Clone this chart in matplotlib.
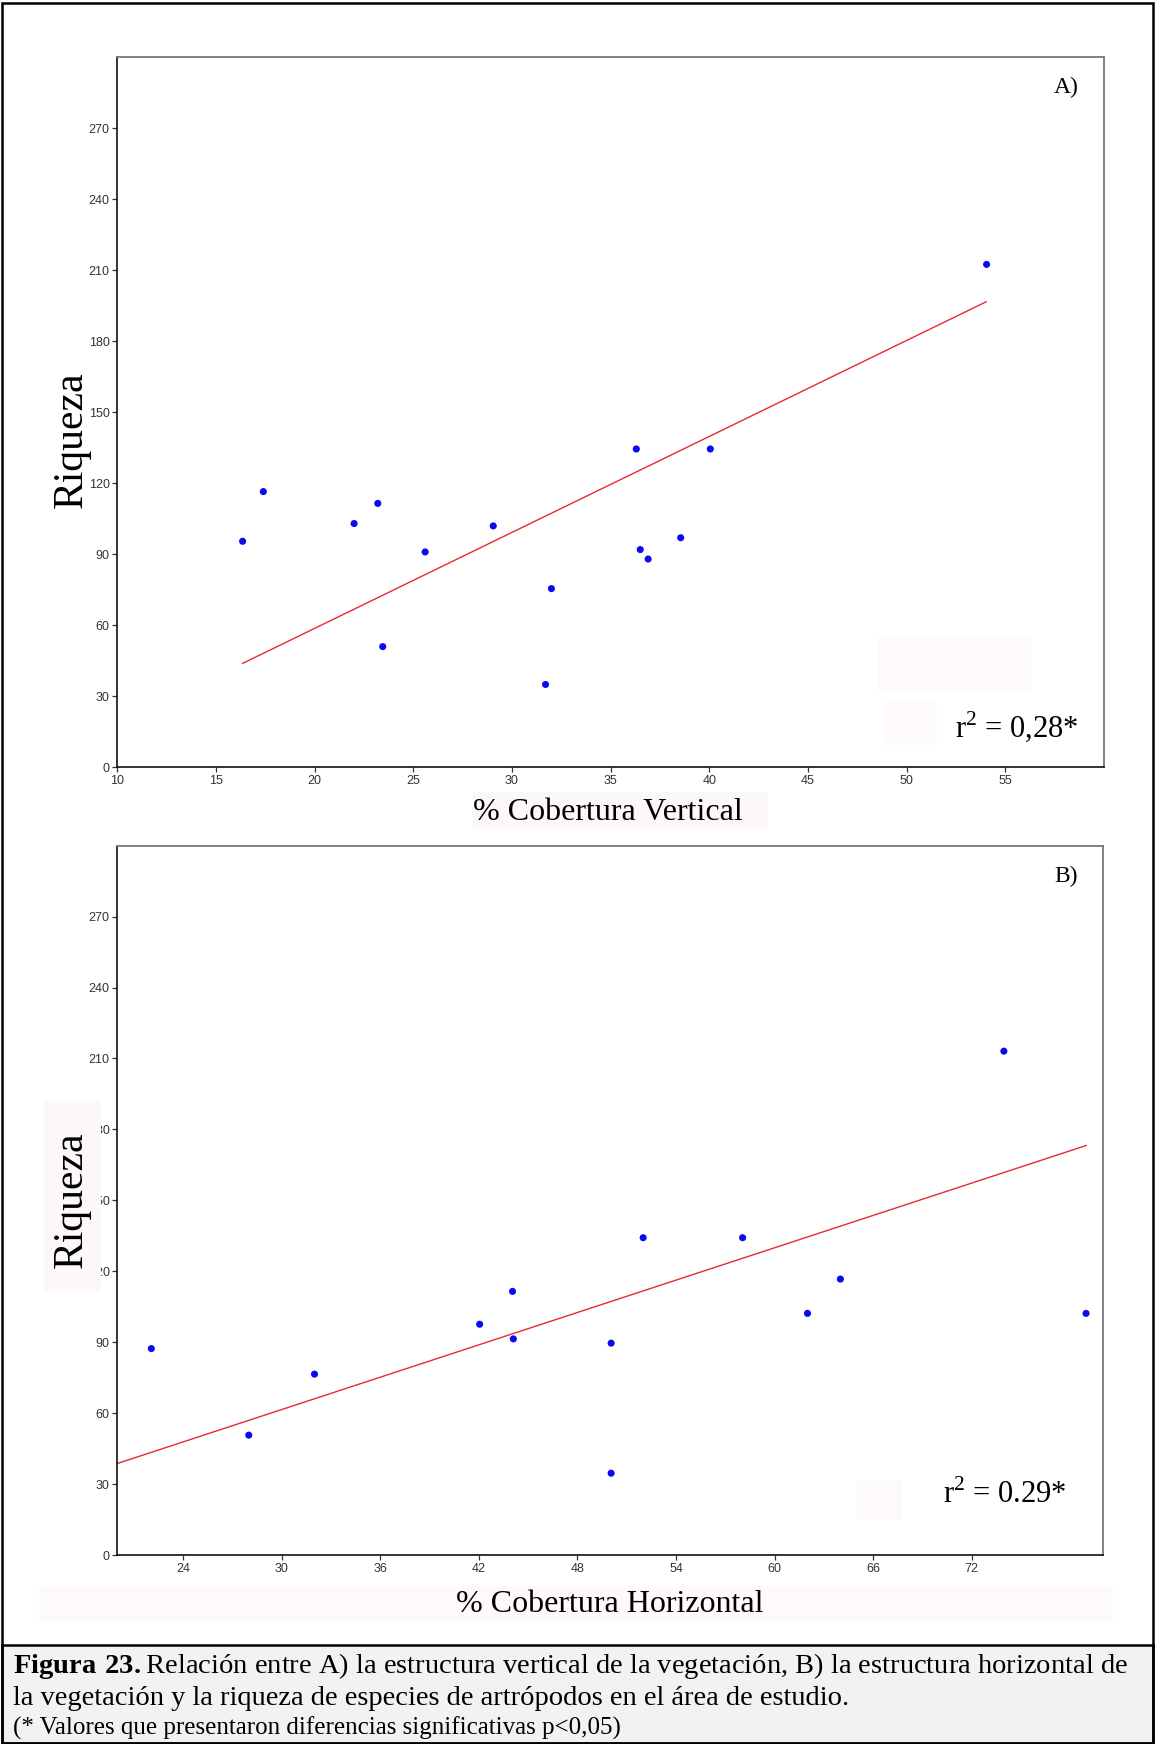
import matplotlib.pyplot as plt
from matplotlib.patches import Rectangle

# A) cobertura vertical vs riqueza
cob_vertical = [16.35, 17.4, 22.0, 23.2, 23.45, 25.6, 29.05, 32.0, 31.7,
                36.3, 40.05, 38.55, 36.5, 36.9, 54.05]
riqueza_a = [95.5, 116.5, 103, 111.5, 51, 91, 102, 75.5, 35,
             134.5, 134.5, 97, 92, 88, 212.5]
fit_a_x = [16.35, 54.03]
fit_a_y = [43.9, 196.7]
xticks_a = [10, 15, 20, 25, 30, 35, 40, 45, 50, 55]

# B) cobertura horizontal vs riqueza
cob_horizontal = [22.07, 28.0, 32.0, 42.05, 44.05, 44.1, 50.05, 50.05,
                  52.0, 58.05, 64.0, 62.0, 78.95, 73.95]
riqueza_b = [87.3, 50.7, 76.5, 97.6, 111.5, 91.4, 89.6, 34.6,
             134.2, 134.2, 116.7, 102.2, 102.2, 213.1]
fit_b_x = [20, 78.96]
fit_b_y = [38.7, 173.2]
xticks_b = [24, 30, 36, 42, 48, 54, 60, 66, 72]

yticks = [0, 30, 60, 90, 120, 150, 180, 210, 240, 270]

W, H = 1155, 1744
plt.rcParams['mathtext.fontset'] = 'custom'
plt.rcParams['mathtext.rm'] = 'Liberation Serif'
plt.rcParams['mathtext.bf'] = 'Liberation Serif:bold'
SERIF = 'Liberation Serif'

fig = plt.figure(figsize=(W / 100, H / 100), dpi=100)


def box(x0, y0, x1, y1):
    # pixel box (top-left origin) -> figure fraction rect
    return [x0 / W, 1 - y1 / H, (x1 - x0) / W, (y1 - y0) / H]


def pt(x, y):
    return x / W, 1 - y / H


def pink(x0, y0, x1, y1, color='#fefafa', z=1):
    r = box(x0, y0, x1, y1)
    fig.patches.append(Rectangle((r[0], r[1]), r[2], r[3], transform=fig.transFigure,
                                 fc=color, ec='none', zorder=z))


def panel(rect, xs, ys, fx, fy, xlim, xticks):
    ax = fig.add_axes(rect)
    ax.scatter(xs, ys, s=26, color='#0a0aee', edgecolors='none', zorder=3)
    ax.plot(fx, fy, color='#e62a30', lw=1.0, zorder=2)
    ax.set_xlim(*xlim)
    ax.set_ylim(0, 300)
    ax.set_xticks(xticks)
    ax.set_yticks(yticks)
    for s in ['left', 'bottom']:
        ax.spines[s].set_color('#111111')
        ax.spines[s].set_linewidth(1.2)
    for s in ['top', 'right']:
        ax.spines[s].set_color('#777777')
        ax.spines[s].set_linewidth(1.3)
    ax.tick_params(direction='out', length=3.5, width=0.9, color='#333333',
                   labelsize=9, labelcolor='#333333', pad=2)
    for lab in ax.get_xticklabels() + ax.get_yticklabels():
        lab.set_fontfamily('Liberation Sans')
    return ax


axA = panel(box(117.3, 57.3, 1104, 767.3), cob_vertical, riqueza_a,
            fit_a_x, fit_a_y, (10, 60), xticks_a)
axB = panel(box(117.3, 845.7, 1103.3, 1555), cob_horizontal, riqueza_b,
            fit_b_x, fit_b_y, (20, 80), xticks_b)

# outer frame and caption area
r = box(2, 1645, 1153, 1743)
fig.patches.append(Rectangle((r[0], r[1]), r[2], r[3], transform=fig.transFigure,
                             fc='#f2f2f2', ec='black', lw=1.8, zorder=0))
r = box(2, 3, 1153, 1743)
fig.patches.append(Rectangle((r[0], r[1]), r[2], r[3], transform=fig.transFigure,
                             fc='none', ec='black', lw=1.8, zorder=5))

# faint patches left over in the original
pink(878, 637, 1031, 693)
pink(883, 702, 937, 745)
pink(473, 792, 768, 829, color='#fdf8f8')
pink(39, 1586, 1113, 1622)
pink(857, 1480, 902, 1520)
pink(44, 1101, 101, 1291, color='#fdf8f8', z=2)

# panel texts
fig.text(*pt(1066, 87), 'A)', family=SERIF, fontsize=17, ha='center', va='center')
fig.text(*pt(1066, 876), 'B)', family=SERIF, fontsize=17, ha='center', va='center')
fig.text(*pt(1017, 727), 'r$^{2}$ = 0,28*', family=SERIF, fontsize=22, ha='center', va='center')
fig.text(*pt(1005, 1495), 'r$^{2}$ = 0.29*', family=SERIF, fontsize=22, ha='center', va='center')
fig.text(*pt(608, 812), '% Cobertura Vertical', family=SERIF, fontsize=23, ha='center', va='center')
fig.text(*pt(610, 1604), '% Cobertura Horizontal', family=SERIF, fontsize=23, ha='center', va='center')
fig.text(*pt(72, 440), 'Riqueza', family=SERIF, fontsize=30, rotation=90, ha='center', va='center')
fig.text(*pt(72, 1200), 'Riqueza', family=SERIF, fontsize=30, rotation=90, ha='center', va='center', zorder=3)

# caption
fig.text(*pt(13, 1666), r'$\mathbf{Figura\ 23.}$Relación entre A) la estructura vertical de la vegetación, '
         'B) la estructura horizontal de', family=SERIF, fontsize=20.5, va='center')
fig.text(*pt(13, 1698), 'la vegetación y la riqueza de especies de artrópodos en el área de estudio.',
         family=SERIF, fontsize=20.5, va='center')
fig.text(*pt(13, 1728), '(* Valores que presentaron diferencias significativas p<0,05)',
         family=SERIF, fontsize=18, va='center')

fig.savefig('out.png', dpi=100)
